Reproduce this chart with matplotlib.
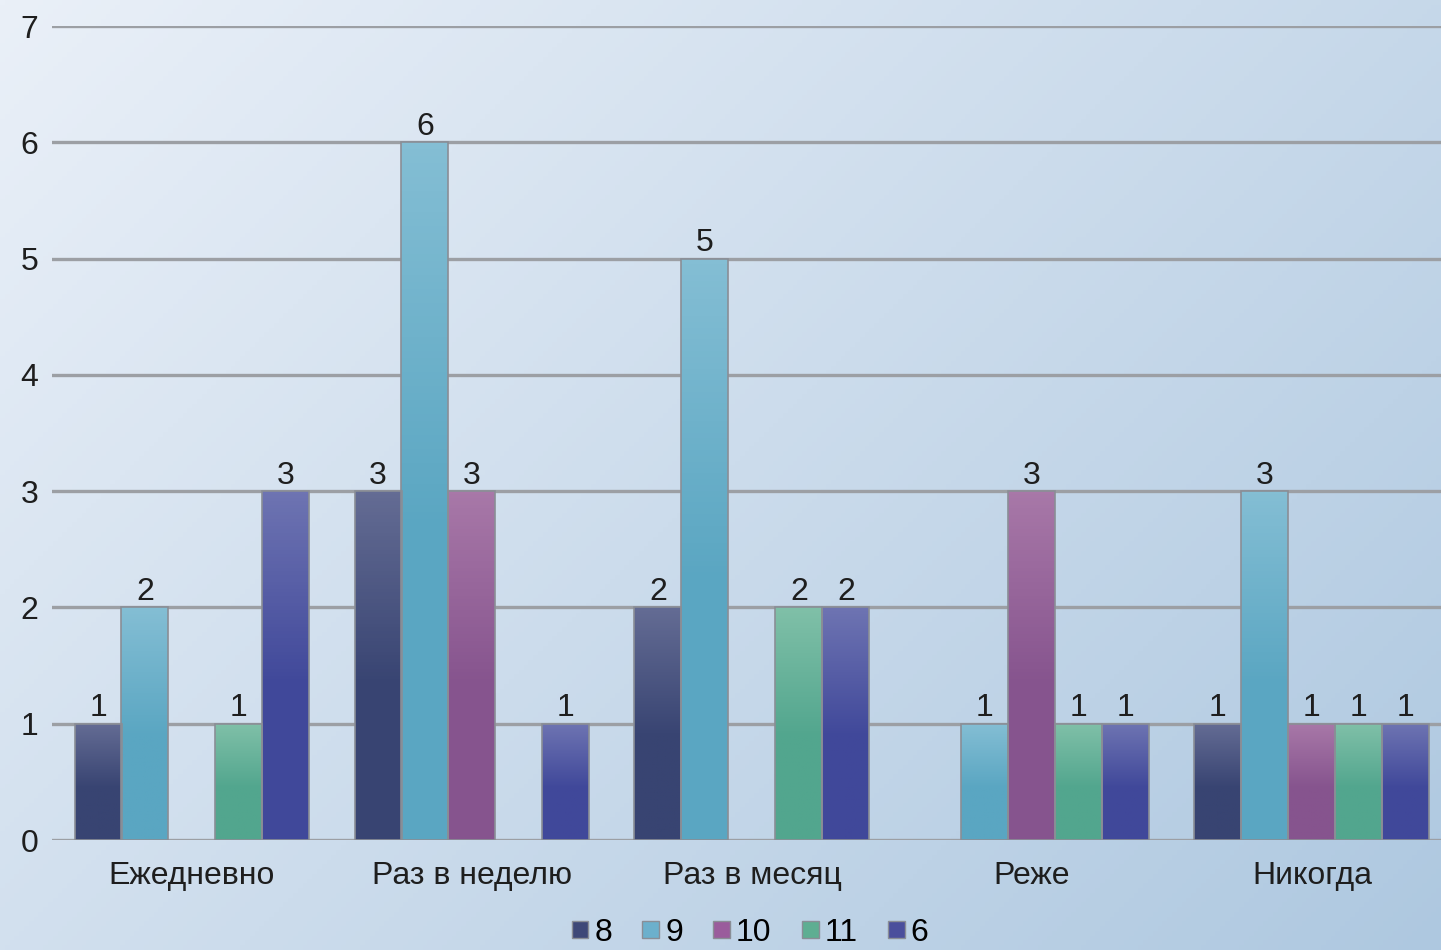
import numpy as np
import matplotlib
matplotlib.use('Agg')
import matplotlib.pyplot as plt
from matplotlib.patches import Patch
from matplotlib.colors import to_rgb

categories = ['Ежедневно', 'Раз в неделю', 'Раз в месяц', 'Реже', 'Никогда']
series_names = ['8', '9', '10', '11', '6']
s8 = [1, 3, 2, 0, 1]
s9 = [2, 6, 5, 1, 3]
s10 = [0, 3, 0, 3, 1]
s11 = [1, 0, 2, 1, 1]
s6 = [3, 1, 2, 1, 1]
values = [s8, s9, s10, s11, s6]

# top colour / bottom colour of each series gradient
colors_top = ['#646c94', '#84bed4', '#a878a8', '#80c0a8', '#6e74b2']
colors_bot = ['#384472', '#5aa6c2', '#86548e', '#52a68e', '#40489a']
legend_colors = ['#3e4878', '#6cb0cc', '#9a5c9c', '#5eae92', '#4a4e9c']

plt.rcParams['font.family'] = ['Liberation Sans', 'DejaVu Sans']

fig = plt.figure(figsize=(14.41, 9.5), dpi=100)

# background gradient
bg = fig.add_axes([0, 0, 1, 1])
bg.set_axis_off()
yy, xx = np.mgrid[0:1:200j, 0:1:300j]
t = (xx * 0.6 + yy * 0.4)
c0 = np.array(to_rgb('#eaf0f8'))
c1 = np.array(to_rgb('#aec8e0'))
img = c0[None, None, :] * (1 - t[..., None]) + c1[None, None, :] * t[..., None]
bg.imshow(img, extent=[0, 1, 0, 1], aspect='auto', origin='upper')

ax = fig.add_axes([52 / 1441, 110 / 950, 1400 / 1441, 814 / 950])
ax.patch.set_alpha(0)
ax.set_xlim(-0.5, 4.5)
ax.set_ylim(0, 7)
for s in ax.spines.values():
    s.set_visible(False)

for yv in range(0, 8):
    ax.axhline(yv, color='#9c9fa4', lw=2.4, zorder=1)

w = 47 / 280
x = np.arange(len(categories))
grad = np.linspace(0, 1, 100)[:, None]
for i, vals in enumerate(values):
    ct = np.array(to_rgb(colors_top[i]))
    cb = np.array(to_rgb(colors_bot[i]))
    for j, v in enumerate(vals):
        if v == 0:
            continue
        xc = x[j] + (i - 2) * w
        bar = ax.bar(xc, v, width=w, color='none', edgecolor='#8a8e96', lw=1.2, zorder=3)[0]
        # gradient: lighter at top, darker towards the bottom
        g = np.clip(grad * 1.8, 0, 1)
        im_arr = ct[None, None, :] * (1 - g[..., None]) + cb[None, None, :] * g[..., None]
        im = ax.imshow(im_arr, extent=[xc - w / 2, xc + w / 2, 0, v], aspect='auto',
                       origin='upper', zorder=2)
        im.set_clip_path(bar)
        ax.text(xc, v + 0.005, str(v), ha='center', va='bottom', fontsize=23, color='#1e1e1e', zorder=4)

ax.set_xticks(x)
ax.set_xticklabels(categories, fontsize=23, color='#1e1e1e')
ax.set_yticks(range(0, 8))
ax.set_yticklabels([str(v) for v in range(0, 8)], fontsize=23, color='#1e1e1e')
ax.tick_params(axis='both', length=0)
ax.tick_params(axis='y', pad=10)
ax.tick_params(axis='x', pad=15)

handles = [Patch(facecolor=legend_colors[i], edgecolor='#8a8e96', label=series_names[i]) for i in range(5)]
fig.legend(handles=handles, loc='center', bbox_to_anchor=(750 / 1441, 17 / 950), ncol=5,
           frameon=False, fontsize=23, handlelength=0.53, handleheight=0.47,
           handletextpad=0.19, columnspacing=0.94, borderpad=0)

fig.savefig('out.png', dpi=100)
